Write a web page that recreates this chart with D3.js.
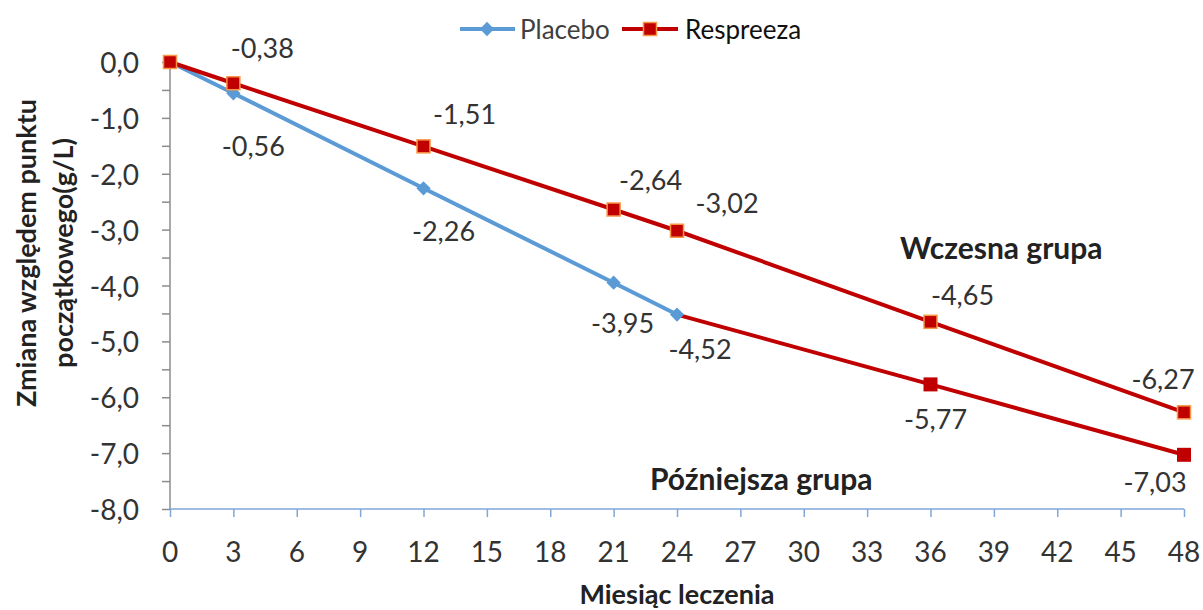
<!DOCTYPE html>
<html lang="pl">
<head>
    <meta charset="utf-8">
    <title>Respreeza</title>
    <script src="https://cdnjs.cloudflare.com/ajax/libs/d3/7.8.5/d3.min.js"></script>
    <style>
        body { margin: 0; background: #fff; }
        text { font-family: Lato, "Open Sans", sans-serif; fill: #333; }
    </style>
</head>
<body>
<script>

    var w = 1203;
    var h = 610;

    // dane
    var placeboMonths = [0, 3, 12, 21, 24];
    var placeboValues = [0, -0.56, -2.26, -3.95, -4.52];
    var earlyMonths = [0, 3, 12, 21, 24, 36, 48];
    var earlyValues = [0, -0.38, -1.51, -2.64, -3.02, -4.65, -6.27];
    var lateMonths = [24, 36, 48];
    var lateValues = [-4.52, -5.77, -7.03];
    var xTickValues = [0, 3, 6, 9, 12, 15, 18, 21, 24, 27, 30, 33, 36, 39, 42, 45, 48];
    var yTickValues = [0, -1, -2, -3, -4, -5, -6, -7, -8];
    var seriesNames = ["Placebo", "Respreeza"];

    // przesuniecia etykiet (px) wzgledem punktu
    var placeboLabelOff = [null, [20, 52], [20, 42], [9, 40], [23, 34]];
    var earlyLabelOff = [null, [29, -36], [41, -33], [37, -30], [50, -28], [32, -27], [-21, -34]];
    var lateLabelOff = [null, [5, 34], [-29, 27]];

    var blue = "#5b9bd5", red = "#c00000", orange = "#f79646";

    var svg = d3.select("body").append("svg")
        .attr("width", w)
        .attr("height", h);

    var x = d3.scaleLinear().domain([0, 48]).range([170, 1184]);
    var y = d3.scaleLinear().domain([0, -8]).range([62, 509]);

    // przecinek dziesietny i zwykly minus
    var fmt = function(v, p) { return v.toFixed(p).replace(".", ","); };

    // os Y
    var yAxis = svg.append("g")
        .attr("transform", "translate(170,0)")
        .call(d3.axisLeft(y).tickValues(d3.range(0, -8.01, -0.5)).tickSize(8).tickFormat(""));
    yAxis.selectAll("line, path").attr("stroke", "#8c8c8c").attr("stroke-width", 1.5);
    yAxis.select(".domain").attr("d", "M0," + y(0) + "V" + y(-8));

    svg.selectAll(".ylab").data(yTickValues).enter().append("text")
        .attr("x", 139)
        .attr("y", function(d) { return y(d); })
        .attr("text-anchor", "end")
        .attr("dominant-baseline", "central")
        .style("font-size", "28px")
        .text(function(d) { return fmt(d, 1); });

    // os X
    var xAxis = svg.append("g")
        .attr("transform", "translate(0," + y(-8) + ")")
        .call(d3.axisBottom(x).tickValues(xTickValues).tickSize(8).tickFormat(""));
    xAxis.selectAll("line, path").attr("stroke", "#7fa7d9").attr("stroke-width", 1.5);
    xAxis.select(".domain").attr("d", "M" + x(0) + ",0H" + x(48));

    svg.selectAll(".xlab").data(xTickValues).enter().append("text")
        .attr("x", function(d) { return x(d); })
        .attr("y", 551)
        .attr("text-anchor", "middle")
        .attr("dominant-baseline", "central")
        .style("font-size", "28px")
        .text(function(d) { return d; });

    // tytuly osi
    svg.append("text")
        .attr("x", 677).attr("y", 593)
        .attr("text-anchor", "middle").attr("dominant-baseline", "central")
        .style("font-size", "27px").style("font-weight", "bold").style("fill", "#222")
        .text("Miesiąc leczenia");

    var yt = svg.append("text")
        .attr("transform", "translate(25,253) rotate(-90)")
        .attr("text-anchor", "middle")
        .style("font-size", "27px").style("font-weight", "bold").style("fill", "#222");
    yt.append("tspan").attr("x", 0).attr("y", 0).attr("dominant-baseline", "central").text("Zmiana względem punktu");
    yt.append("tspan").attr("x", 0).attr("y", 37).attr("dominant-baseline", "central").text("początkowego(g/L)");

    function pts(ms, vs) {
        return ms.map(function(m, i) { return {m: m, v: vs[i]}; });
    }
    var line = d3.line().x(function(d) { return x(d.m); }).y(function(d) { return y(d.v); });

    var placebo = pts(placeboMonths, placeboValues);
    var early = pts(earlyMonths, earlyValues);
    var late = pts(lateMonths, lateValues);

    svg.append("path").datum(placebo).attr("d", line)
        .attr("fill", "none").attr("stroke", blue).attr("stroke-width", 4);
    svg.append("path").datum(late).attr("d", line)
        .attr("fill", "none").attr("stroke", red).attr("stroke-width", 4);
    svg.append("path").datum(early).attr("d", line)
        .attr("fill", "none").attr("stroke", red).attr("stroke-width", 4);

    var diamond = d3.symbol().type(d3.symbolDiamond2).size(130);

    svg.selectAll(".pm").data(placebo).enter().append("path")
        .attr("d", diamond)
        .attr("transform", function(d) { return "translate(" + x(d.m) + "," + y(d.v) + ")"; })
        .attr("fill", blue);

    svg.selectAll(".lm").data(late.slice(1)).enter().append("rect")
        .attr("x", function(d) { return x(d.m) - 7; })
        .attr("y", function(d) { return y(d.v) - 7; })
        .attr("width", 14).attr("height", 14)
        .attr("fill", red);

    svg.selectAll(".em").data(early).enter().append("rect")
        .attr("x", function(d) { return x(d.m) - 6.5; })
        .attr("y", function(d) { return y(d.v) - 6.5; })
        .attr("width", 13).attr("height", 13)
        .attr("fill", red).attr("stroke", orange).attr("stroke-width", 1.5);

    // etykiety danych
    function labels(data, offs) {
        data.forEach(function(d, i) {
            if (!offs[i]) return;
            svg.append("text")
                .attr("x", x(d.m) + offs[i][0])
                .attr("y", y(d.v) + offs[i][1])
                .attr("text-anchor", "middle")
                .attr("dominant-baseline", "central")
                .style("font-size", "27px")
                .text(fmt(d.v, 2));
        });
    }
    labels(placebo, placeboLabelOff);
    labels(early, earlyLabelOff);
    labels(late, lateLabelOff);

    svg.append("text")
        .attr("x", 900).attr("y", 247)
        .attr("dominant-baseline", "central")
        .style("font-size", "30px").style("font-weight", "bold").style("fill", "#222")
        .text("Wczesna grupa");
    svg.append("text")
        .attr("x", 650).attr("y", 478)
        .attr("dominant-baseline", "central")
        .style("font-size", "30px").style("font-weight", "bold").style("fill", "#222")
        .text("Późniejsza grupa");

    // legenda
    var lg = svg.append("g");
    lg.append("line").attr("x1", 460).attr("x2", 515).attr("y1", 29).attr("y2", 29)
        .attr("stroke", blue).attr("stroke-width", 4);
    lg.append("path").attr("d", diamond).attr("transform", "translate(487,29)").attr("fill", blue);
    lg.append("text").attr("x", 520).attr("y", 29).attr("dominant-baseline", "central")
        .style("font-size", "26px").style("fill", "#404040").text(seriesNames[0]);
    lg.append("line").attr("x1", 622).attr("x2", 678).attr("y1", 29).attr("y2", 29)
        .attr("stroke", red).attr("stroke-width", 4);
    lg.append("rect").attr("x", 643.5).attr("y", 22.5).attr("width", 13).attr("height", 13)
        .attr("fill", red).attr("stroke", orange).attr("stroke-width", 1.5);
    lg.append("text").attr("x", 685).attr("y", 29).attr("dominant-baseline", "central")
        .style("font-size", "26px").style("fill", "#111").text(seriesNames[1]);

</script>
</body>
</html>
